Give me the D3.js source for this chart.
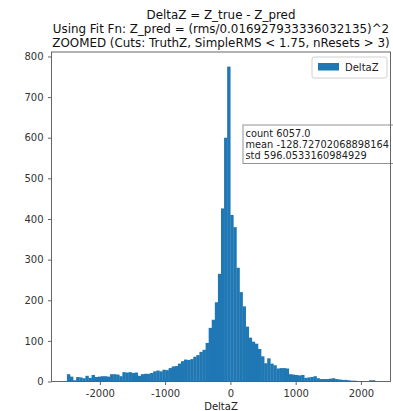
<!DOCTYPE html>
<html>
<head>
<meta charset="utf-8">
<script src="https://cdn.jsdelivr.net/npm/d3@7"></script>
<style>
  html, body { margin: 0; padding: 0; background: #fff; }
  svg { display: block; font-family: "DejaVu Sans", sans-serif; }
</style>
</head>
<body>
<svg id="chart" width="393" height="411"></svg>
<script>
// ---- data ----
const titleLines = [
  "DeltaZ = Z_true - Z_pred",
  "Using Fit Fn: Z_pred = (rms/0.016927933336032135)^2",
  "ZOOMED (Cuts: TruthZ, SimpleRMS < 1.75, nResets > 3)"
];
const seriesName = "DeltaZ";
const xLabel = "DeltaZ";
const binStart = -2505;
const binWidth = 47.22;
const counts = [
  18, 12, 3, 11, 10, 8, 14, 9, 16, 11,
  12, 13, 13, 12, 18, 18, 17, 13, 23, 22,
  23, 21, 22, 14, 18, 19, 19, 21, 25, 27,
  25, 29, 28, 33, 37, 38, 44, 50, 54, 53,
  55, 61, 65, 73, 78, 95, 132, 152, 195, 265,
  426, 600, 775, 410, 380, 280, 220, 185, 135, 108,
  98, 93, 80, 62, 45, 57, 44, 40, 32, 33,
  33, 32, 18, 17, 16, 15, 16, 9, 10, 11,
  13, 8, 6, 6, 6, 7, 8, 6, 5, 4,
  4, 3, 2, 2, 1, 1, 1, 0, 3, 3
];
const xTicks = [-2000, -1000, 0, 1000, 2000];
const yTicks = [0, 100, 200, 300, 400, 500, 600, 700, 800];
const statsLines = [
  "count 6057.0",
  "mean -128.72702068898164",
  "std 596.0533160984929"
];
const xDomain = [-2741, 2453];
const yDomain = [0, 811];

// ---- layout ----
const plot = { left: 51.5, right: 390.5, top: 52, bottom: 381.5 };
const blue = "#1f77b4";
const svg = d3.select("#chart");

const x = d3.scaleLinear().domain(xDomain).range([plot.left, plot.right]);
const y = d3.scaleLinear().domain(yDomain).range([plot.bottom, plot.top]);

const bins = counts.map((c, i) => ({ x0: binStart + i * binWidth, x1: binStart + (i + 1) * binWidth, c }));

// bars
svg.append("g").selectAll("rect").data(bins).join("rect")
  .attr("x", d => x(d.x0))
  .attr("width", d => Math.max(0, x(d.x1) - x(d.x0)) + 0.3)
  .attr("y", d => y(d.c))
  .attr("height", d => y(0) - y(d.c))
  .attr("fill", blue);

// axes
const fmt = d => String(d); // hyphen-minus like the reference
const xAxis = d3.axisBottom(x).tickValues(xTicks).tickSize(3.5).tickPadding(5).tickFormat(fmt);
const yAxis = d3.axisLeft(y).tickValues(yTicks).tickSize(3.5).tickPadding(4.5).tickFormat(fmt);

const gx = svg.append("g").attr("transform", `translate(0,${plot.bottom})`).call(xAxis);
const gy = svg.append("g").attr("transform", `translate(${plot.left},0)`).call(yAxis);
[gx, gy].forEach(g => {
  g.select(".domain").remove();
  g.selectAll("line").attr("stroke", "#555").attr("stroke-width", 0.9);
  g.selectAll("text").attr("fill", "#333").style("font-size", "10px")
    .style("font-family", "'DejaVu Sans', sans-serif");
});

// stats text box (drawn before spines so the right spine shows through)
const sb = { x: 243, y: 125, w: 170, h: 38.5 };
svg.append("rect").attr("x", sb.x).attr("y", sb.y).attr("width", sb.w).attr("height", sb.h)
  .attr("fill", "#fff").attr("stroke", "#888").attr("stroke-width", 0.9);
svg.append("g").selectAll("text").data(statsLines).join("text")
  .attr("x", sb.x + 2.5)
  .attr("y", (d, i) => sb.y + 12 + i * 11)
  .attr("fill", "#222")
  .style("font-size", "9.8px")
  .text(d => d);

// frame
svg.append("rect")
  .attr("x", plot.left).attr("y", plot.top)
  .attr("width", plot.right - plot.left).attr("height", plot.bottom - plot.top)
  .attr("fill", "none").attr("stroke", "#555").attr("stroke-width", 0.9);

// title
svg.append("g").selectAll("text").data(titleLines).join("text")
  .attr("x", (plot.left + plot.right) / 2)
  .attr("y", (d, i) => 19 + i * 13.9)
  .attr("text-anchor", "middle")
  .attr("fill", "#111")
  .style("font-size", "11.9px")
  .text(d => d);

// x label
svg.append("text")
  .attr("x", (plot.left + plot.right) / 2)
  .attr("y", 409.5)
  .attr("text-anchor", "middle")
  .attr("fill", "#222")
  .style("font-size", "10px")
  .text(xLabel);

// legend
const lg = { x: 312, y: 57, w: 75, h: 21 };
svg.append("rect").attr("x", lg.x).attr("y", lg.y).attr("width", lg.w).attr("height", lg.h)
  .attr("rx", 2).attr("fill", "#fff").attr("stroke", "#ccc").attr("stroke-width", 0.9);
svg.append("rect").attr("x", lg.x + 6).attr("y", lg.y + 6).attr("width", 21).attr("height", 7.5)
  .attr("fill", blue);
svg.append("text").attr("x", lg.x + 33).attr("y", lg.y + 13.5)
  .attr("fill", "#222").style("font-size", "10px").text(seriesName);
</script>
</body>
</html>
